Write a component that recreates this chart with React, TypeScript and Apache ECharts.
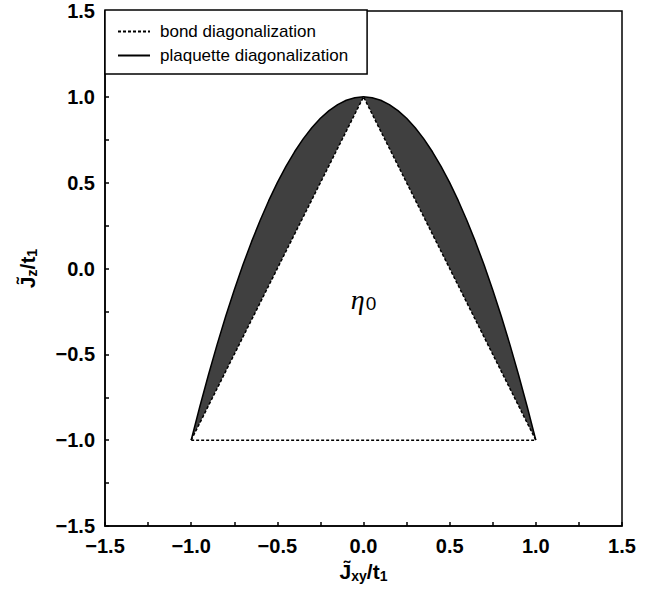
import React, { useEffect, useRef } from "react";
import * as echarts from "echarts";

// Plaquette diagonalization boundary
const curveX = [
  -1.0, -0.95, -0.9, -0.85, -0.8, -0.75, -0.7, -0.65, -0.6, -0.55, -0.5, -0.45, -0.4, -0.35, -0.3, -0.25, -0.2, -0.15, -0.1, -0.05,
  0.0, 0.05, 0.1, 0.15, 0.2, 0.25, 0.3, 0.35, 0.4, 0.45, 0.5, 0.55, 0.6, 0.65, 0.7, 0.75, 0.8, 0.85, 0.9, 0.95, 1.0,
];
const curveY = [
  -1.0, -0.805, -0.62, -0.445, -0.28, -0.125, 0.02, 0.155, 0.28, 0.395, 0.5, 0.595, 0.68, 0.755, 0.82, 0.875, 0.92, 0.955, 0.98, 0.995,
  1.0, 0.995, 0.98, 0.955, 0.92, 0.875, 0.82, 0.755, 0.68, 0.595, 0.5, 0.395, 0.28, 0.155, 0.02, -0.125, -0.28, -0.445, -0.62, -0.805, -1.0,
];
// Bond diagonalization boundary (triangle)
const bondX = [-1.0, 0.0, 1.0, -1.0];
const bondY = [-1.0, 1.0, -1.0, -1.0];
// Region label position
const etaPos = [0.0, -0.18];

const seriesNames = ["bond diagonalization", "plaquette diagonalization"];

const FONT = "'Liberation Sans', Arial, Helvetica, sans-serif";

function fmtTick(v: number): string {
  const r = Math.round(v * 100) / 100;
  if (Math.abs(r * 2 - Math.round(r * 2)) > 1e-6) return "";
  return (r < 0 ? "\u2212" : "") + Math.abs(r).toFixed(1);
}

export default function App() {
  const ref = useRef<HTMLDivElement>(null);
  useEffect(() => {
    if (!ref.current) return;
    const chart = echarts.init(ref.current, undefined, { renderer: "svg" });
    const curveData = curveX.map((x, i) => [x, curveY[i]]);
    const bondData = bondX.map((x, i) => [x, bondY[i]]);
    const nameRich = {
      a: { fontSize: 21, fontFamily: FONT, fontWeight: "bold", color: "#000" },
      b: { fontSize: 14, fontFamily: FONT, fontWeight: "bold", color: "#000", padding: [10, 0, 0, 0] },
    };
    const axisCommon = {
      type: "value",
      min: -1.5,
      max: 1.5,
      interval: 0.25,
      axisLine: { show: true, onZero: false, lineStyle: { color: "#000", width: 1.5 } },
      axisTick: { show: true, inside: true, length: 4, lineStyle: { color: "#000", width: 1.5 } },
      splitLine: { show: false },
      axisLabel: {
        formatter: fmtTick,
        color: "#000",
        fontSize: 20,
        fontWeight: "bold",
        fontFamily: FONT,
        margin: 10,
        showMinLabel: true,
        showMaxLabel: true,
      },
      nameLocation: "middle",
      nameTextStyle: { rich: nameRich },
    };
    chart.setOption({
      animation: false,
      backgroundColor: "#fff",
      grid: {
        left: 105,
        right: 40,
        top: 11,
        bottom: 71,
        show: true,
        borderColor: "#000",
        borderWidth: 1.5,
        backgroundColor: "transparent",
      },
      legend: {
        data: seriesNames,
        orient: "vertical",
        left: 105,
        top: 10,
        backgroundColor: "#fff",
        borderColor: "#000",
        borderWidth: 1.5,
        borderRadius: 0,
        padding: [13, 19, 10, 12],
        itemGap: 7,
        itemWidth: 32,
        itemHeight: 14,
        itemStyle: { opacity: 0 },
        textStyle: { fontSize: 17, fontFamily: FONT, color: "#000", padding: [0, 0, 0, 5] },
      },
      xAxis: {
        ...axisCommon,
        name: "{a|J\u0303}{b|xy}{a|/t}{b|1}",
        nameGap: 32,
      },
      yAxis: {
        ...axisCommon,
        name: "{a|J\u0303}{b|z}{a|/t}{b|1}",
        nameGap: 66,
        nameRotate: 90,
      },
      series: [
        {
          type: "custom",
          name: "fill",
          silent: true,
          z: 1,
          data: [[0, 0]],
          renderItem: (_params: any, api: any) => {
            const pts: number[][] = curveX.map((x, i) => api.coord([x, curveY[i]]));
            pts.push(api.coord([bondX[1], bondY[1]]));
            pts.push(api.coord([bondX[0], bondY[0]]));
            return {
              type: "polygon",
              shape: { points: pts },
              style: { fill: "#404040", stroke: "none" },
            };
          },
        },
        {
          type: "line",
          name: seriesNames[0],
          data: bondData,
          symbol: "none",
          z: 3,
          lineStyle: { color: "#000", width: 1.5, type: [3, 2] },
          itemStyle: { color: "#000" },
          markPoint: {
            symbol: "circle",
            symbolSize: 0,
            silent: true,
            data: [
              {
                coord: etaPos,
                label: {
                  show: true,
                  position: "inside",
                  formatter: "{e|\u03b7}{s|0}",
                  rich: {
                    e: { fontSize: 28, fontStyle: "italic", fontFamily: "'Liberation Serif', 'DejaVu Serif', serif", color: "#000" },
                    s: { fontSize: 19, fontFamily: FONT, color: "#000", padding: [8, 0, 0, 1] },
                  },
                },
              },
            ],
          },
        },
        {
          type: "line",
          name: seriesNames[1],
          data: curveData,
          symbol: "none",
          z: 4,
          lineStyle: { color: "#000", width: 1.5, type: "solid" },
          itemStyle: { color: "#000" },
        },
      ],
    });
    return () => chart.dispose();
  }, []);
  return (
    <div
      ref={ref}
      style={{ position: "fixed", left: 0, top: 0, width: 662, height: 597, background: "#fff" }}
    />
  );
}
